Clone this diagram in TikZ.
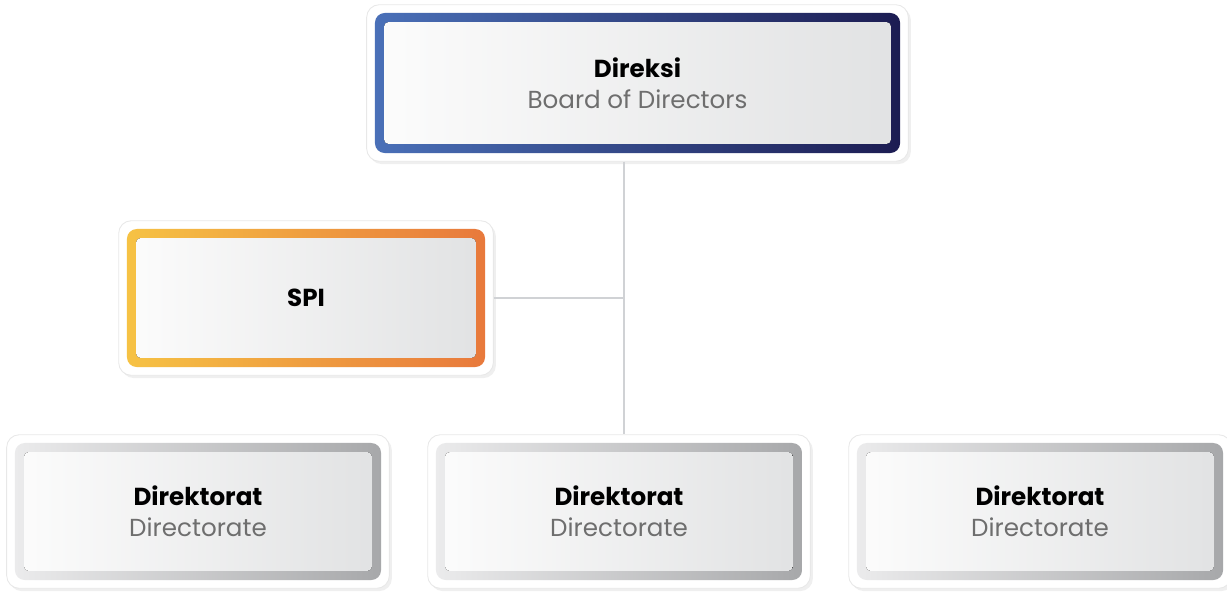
\documentclass[tikz,border=0pt]{standalone}
\usepackage{fontspec}
\setmainfont{Poppins}
\usetikzlibrary{positioning,fit,backgrounds,shadows}

\definecolor{blueL}{HTML}{4A70B8}
\definecolor{blueR}{HTML}{1C1C52}
\definecolor{orangeL}{HTML}{F6C244}
\definecolor{orangeR}{HTML}{E8793C}
\definecolor{greyL}{HTML}{EBEBEC}
\definecolor{greyR}{HTML}{A7A8AA}
\definecolor{panelL}{HTML}{FCFCFC}
\definecolor{panelR}{HTML}{E1E2E3}
\definecolor{subtext}{HTML}{6E6E6E}
\definecolor{linkgrey}{HTML}{D0D2D5}

\begin{document}
\begin{tikzpicture}[x=0.025cm,y=-0.025cm]
\tikzstyle{unitbox} = [rounded corners=7pt, inner sep=0pt, align=center,
  font=\fontsize{17.5}{22}\selectfont,
  path picture={\fill[left color=panelL, right color=panelR, rounded corners=3pt]
    ([shift={(0.23cm,0.23cm)}]path picture bounding box.south west) rectangle
    ([shift={(-0.23cm,-0.23cm)}]path picture bounding box.north east);}]
\tikzstyle{bod} = [unitbox, left color=blueL, right color=blueR,
  minimum width=13.125cm, minimum height=3.5cm]
\tikzstyle{audit} = [unitbox, left color=orangeL, right color=orangeR,
  minimum width=8.95cm, minimum height=3.45cm]
\tikzstyle{dirbox} = [unitbox, left color=greyL, right color=greyR,
  minimum width=9.15cm, minimum height=3.425cm]
\tikzstyle{frame} = [rounded corners=9pt, fill=white, draw=black!9, line width=0.6pt,
  inner sep=0.2cm, drop shadow={shadow xshift=1.8pt, shadow yshift=-2pt, opacity=.13}]
\tikzstyle{link} = [draw=linkgrey, line width=1.4pt]
\useasboundingbox (0,0) rectangle (1227,594);

\node[bod] (direksi) at (637.5,83) {\textbf{Direksi}\\\textcolor{subtext}{Board of Directors}};
\node[audit] (spi) at (306,298) {\textbf{SPI}};
\node[dirbox] (dir1) at (198,511.5) {\textbf{Direktorat}\\\textcolor{subtext}{Directorate}};
\node[dirbox] (dir2) at (619,511.5) {\textbf{Direktorat}\\\textcolor{subtext}{Directorate}};
\node[dirbox] (dir3) at (1040,511.5) {\textbf{Direktorat}\\\textcolor{subtext}{Directorate}};

% white mounts behind the boxes
\begin{scope}[on background layer]
  \foreach \b in {direksi,spi,dir1,dir2,dir3}
    \node[frame, fit=(\b)] (\b-frame) {};
  % connectors
  \coordinate (hub) at (624,298);
  \draw[link] (hub |- direksi-frame.south) -- (hub |- dir2-frame.north);
  \draw[link] (spi-frame.east) -- (spi-frame.east -| hub);
\end{scope}
\end{tikzpicture}
\end{document}
